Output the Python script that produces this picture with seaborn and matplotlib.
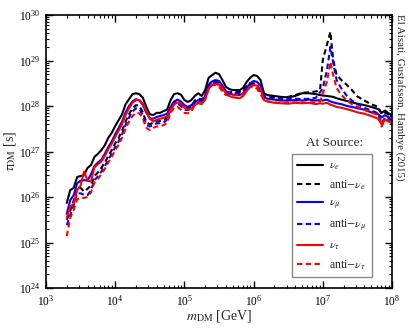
import numpy as np
import pandas as pd
import matplotlib
matplotlib.use("Agg")
import matplotlib.pyplot as plt
from matplotlib.lines import Line2D
from matplotlib.ticker import LogLocator, NullFormatter
import seaborn as sns

# ---------------- data (log10 values) ----------------
log_mass = [3.30, 3.35, 3.40, 3.45, 3.50, 3.55, 3.60, 3.65, 3.70, 3.75,
            3.80, 3.85, 3.90, 3.95, 4.00, 4.05, 4.10, 4.15, 4.20, 4.25,
            4.30, 4.35, 4.40, 4.45, 4.50, 4.55, 4.60, 4.65, 4.70, 4.75,
            4.80, 4.85, 4.90, 4.95, 5.00, 5.05, 5.10, 5.15, 5.20, 5.25,
            5.30, 5.35, 5.40, 5.45, 5.50, 5.55, 5.60, 5.65, 5.70, 5.75,
            5.80, 5.85, 5.90, 5.95, 6.00, 6.05, 6.10, 6.15, 6.20, 6.30,
            6.40, 6.50, 6.60, 6.70, 6.80, 6.90, 6.96, 7.00, 7.06, 7.11,
            7.15, 7.20, 7.27, 7.35, 7.42, 7.50, 7.60, 7.70, 7.80, 7.85,
            7.90, 8.00]

log_tau_nu_e = [25.87, 26.15, 26.20, 26.44, 26.46, 26.48, 26.64, 26.70, 26.88, 26.95,
                27.03, 27.14, 27.30, 27.41, 27.56, 27.69, 27.82, 28.04, 28.15, 28.26,
                28.28, 28.26, 28.18, 27.98, 27.82, 27.80, 27.85, 27.85, 27.89, 27.92,
                28.13, 28.26, 28.28, 28.25, 28.13, 28.09, 28.13, 28.22, 28.28, 28.22,
                28.35, 28.62, 28.68, 28.73, 28.70, 28.57, 28.42, 28.37, 28.35, 28.35,
                28.35, 28.40, 28.53, 28.62, 28.68, 28.66, 28.57, 28.28, 28.24, 28.22,
                28.20, 28.19, 28.22, 28.28, 28.28, 28.26, 28.24, 28.23, 28.22, 28.21,
                28.20, 28.17, 28.14, 28.11, 28.08, 28.05, 28.02, 27.98, 27.93, 27.85,
                27.90, 27.78]

log_tau_anti_nu_e = [25.50, 25.70, 25.92, 26.18, 26.20, 26.12, 26.18, 26.25, 26.46, 26.54,
                     26.64, 26.76, 26.90, 27.03, 27.18, 27.30, 27.46, 27.66, 27.82, 27.95,
                     28.02, 28.00, 27.86, 27.64, 27.60, 27.63, 27.66, 27.67, 27.69, 27.75,
                     27.96, 28.08, 28.10, 28.04, 27.96, 27.95, 27.99, 28.12, 28.17, 28.14,
                     28.24, 28.46, 28.54, 28.54, 28.50, 28.39, 28.31, 28.30, 28.31, 28.31,
                     28.31, 28.35, 28.43, 28.50, 28.50, 28.46, 28.34, 28.22, 28.20, 28.19,
                     28.18, 28.20, 28.24, 28.29, 28.30, 28.32, 28.35, 29.01, 29.35, 29.63,
                     29.01, 28.68, 28.57, 28.46, 28.35, 28.21, 28.12, 28.04, 27.98, 27.82,
                     27.85, 27.78]

log_tau_nu_mu = [25.63, 25.93, 26.04, 26.30, 26.36, 26.37, 26.36, 26.50, 26.68, 26.76,
                 26.82, 26.95, 27.10, 27.22, 27.38, 27.52, 27.66, 27.86, 28.00, 28.10,
                 28.15, 28.12, 28.02, 27.85, 27.73, 27.72, 27.76, 27.78, 27.80, 27.83,
                 27.98, 28.10, 28.14, 28.10, 28.02, 27.98, 28.02, 28.08, 28.13, 28.10,
                 28.22, 28.46, 28.54, 28.57, 28.55, 28.45, 28.33, 28.28, 28.25, 28.24,
                 28.24, 28.28, 28.40, 28.50, 28.55, 28.53, 28.45, 28.20, 28.16, 28.14,
                 28.12, 28.12, 28.13, 28.12, 28.14, 28.12, 28.13, 28.12, 28.14, 28.10,
                 28.08, 28.06, 28.04, 28.00, 27.98, 27.95, 27.92, 27.86, 27.82, 27.75,
                 27.80, 27.70]

log_tau_anti_nu_mu = [25.38, 25.60, 25.82, 26.08, 26.08, 26.05, 26.04, 26.15, 26.37, 26.45,
                      26.56, 26.68, 26.82, 26.95, 27.10, 27.22, 27.38, 27.58, 27.75, 27.88,
                      27.95, 27.93, 27.80, 27.58, 27.55, 27.58, 27.62, 27.62, 27.64, 27.70,
                      27.92, 28.04, 28.06, 28.00, 27.92, 27.91, 27.95, 28.08, 28.13, 28.10,
                      28.20, 28.42, 28.50, 28.50, 28.46, 28.35, 28.28, 28.27, 28.28, 28.28,
                      28.28, 28.32, 28.40, 28.46, 28.46, 28.42, 28.30, 28.18, 28.16, 28.15,
                      28.14, 28.15, 28.16, 28.15, 28.16, 28.18, 28.30, 28.39, 28.79, 29.30,
                      28.95, 28.57, 28.38, 28.22, 28.12, 28.04, 27.96, 27.90, 27.84, 27.62,
                      27.75, 27.68]

log_tau_nu_tau = [25.54, 25.79, 25.85, 26.15, 26.25, 26.56, 26.36, 26.34, 26.65, 26.72,
                  26.78, 26.90, 27.05, 27.17, 27.32, 27.46, 27.60, 27.80, 27.95, 28.07,
                  28.13, 28.13, 28.05, 27.88, 27.72, 27.66, 27.70, 27.72, 27.74, 27.77,
                  27.92, 28.04, 28.08, 28.05, 27.96, 27.92, 27.95, 28.02, 28.07, 28.04,
                  28.15, 28.38, 28.46, 28.48, 28.47, 28.40, 28.28, 28.22, 28.19, 28.18,
                  28.17, 28.22, 28.33, 28.42, 28.46, 28.45, 28.38, 28.13, 28.10, 28.07,
                  28.06, 28.05, 28.07, 28.06, 28.07, 28.04, 28.06, 28.05, 28.07, 28.03,
                  28.01, 27.98, 27.96, 27.93, 27.90, 27.86, 27.83, 27.78, 27.72, 27.60,
                  27.70, 27.62]

log_tau_anti_nu_tau = [25.14, 25.54, 25.72, 25.95, 25.98, 25.98, 26.00, 26.10, 26.32, 26.40,
                       26.50, 26.62, 26.76, 26.88, 27.03, 27.15, 27.30, 27.50, 27.66, 27.78,
                       27.85, 27.84, 27.72, 27.52, 27.47, 27.52, 27.55, 27.56, 27.58, 27.63,
                       27.85, 27.96, 27.98, 27.92, 27.85, 27.84, 27.88, 28.02, 28.07, 28.04,
                       28.14, 28.37, 28.46, 28.46, 28.42, 28.32, 28.24, 28.23, 28.24, 28.24,
                       28.24, 28.28, 28.36, 28.42, 28.42, 28.38, 28.26, 28.13, 28.10, 28.08,
                       28.07, 28.08, 28.08, 28.07, 28.08, 28.08, 28.10, 28.28, 28.53, 28.97,
                       28.68, 28.39, 28.24, 28.12, 28.04, 27.98, 27.92, 27.86, 27.80, 27.55,
                       27.70, 27.64]

series_labels = [r"$\nu_e$", r"anti$-\nu_e$", r"$\nu_\mu$", r"anti$-\nu_\mu$",
                 r"$\nu_\tau$", r"anti$-\nu_\tau$"]
series_values = [log_tau_nu_e, log_tau_anti_nu_e, log_tau_nu_mu, log_tau_anti_nu_mu,
                 log_tau_nu_tau, log_tau_anti_nu_tau]
series_colors = ["black", "black", "#0000ff", "#0000ff", "#ff0000", "#ff0000"]
series_dashed = [False, True, False, True, False, True]

# ---------------- style ----------------
sns.set_style("ticks")
plt.rcParams["font.family"] = ["Liberation Serif", "DejaVu Serif"]
plt.rcParams["mathtext.fontset"] = "stix"
plt.rcParams["axes.linewidth"] = 1.2

fig = plt.figure(figsize=(4.11, 3.28), dpi=100)
ax = fig.add_axes([46 / 411, 1 - 288 / 328, 346 / 411, 273 / 328])

dash_pattern = (2.6, 1.6)
handles = []
for lab, vals, col, dashed in zip(series_labels, series_values, series_colors, series_dashed):
    df = pd.DataFrame({"mass": np.power(10.0, log_mass), "tau": np.power(10.0, vals)})
    sns.lineplot(data=df, x="mass", y="tau", ax=ax, color=col, lw=1.5,
                 estimator=None, sort=False, legend=False)
    line = ax.lines[-1]
    if dashed:
        line.set_dashes(dash_pattern)
    h = Line2D([], [], color=col, lw=1.5)
    if dashed:
        h.set_dashes(dash_pattern)
    handles.append(h)

ax.set_xscale("log")
ax.set_yscale("log")
ax.set_xlim(1e3, 1e8)
ax.set_ylim(1e24, 1e30)

ax.xaxis.set_major_locator(LogLocator(base=10, numticks=20))
ax.yaxis.set_major_locator(LogLocator(base=10, numticks=20))
ax.xaxis.set_minor_locator(LogLocator(base=10, subs=np.arange(2, 10), numticks=100))
ax.yaxis.set_minor_locator(LogLocator(base=10, subs=np.arange(2, 10), numticks=100))
ax.xaxis.set_minor_formatter(NullFormatter())
ax.yaxis.set_minor_formatter(NullFormatter())

ax.tick_params(which="both", direction="in", top=True, right=True, colors="black")
ax.tick_params(which="major", length=5, width=1.0, labelsize=8.3, pad=4)
ax.tick_params(which="minor", length=2.5, width=0.8)
for s in ax.spines.values():
    s.set_visible(True)
    s.set_color("black")

ax.set_xlabel(r"$m_{\rm DM}$ [GeV]", fontsize=10, labelpad=0)
ax.set_ylabel(r"$\tau_{\rm DM}$ [s]", fontsize=10, labelpad=1)

leg = ax.legend(handles, series_labels, loc="lower left",
                bbox_to_anchor=(0.711, 0.040), borderaxespad=0,
                fontsize=8.5, frameon=True, fancybox=False,
                handlelength=2.2, handletextpad=0.5, labelspacing=0.5,
                borderpad=0.45)
leg.get_frame().set_edgecolor("#888888")
leg.get_frame().set_linewidth(1.0)
leg.get_frame().set_alpha(1)

ax.text(0.835, 0.53, "At Source:", transform=ax.transAxes, ha="center",
        va="center", fontsize=9.5)

fig.text(0.973, 0.958, "El Aisati, Gustafsson, Hambye (2015)", rotation=270,
         ha="center", va="top", fontsize=7.8)

fig.savefig("out.png", dpi=100)
